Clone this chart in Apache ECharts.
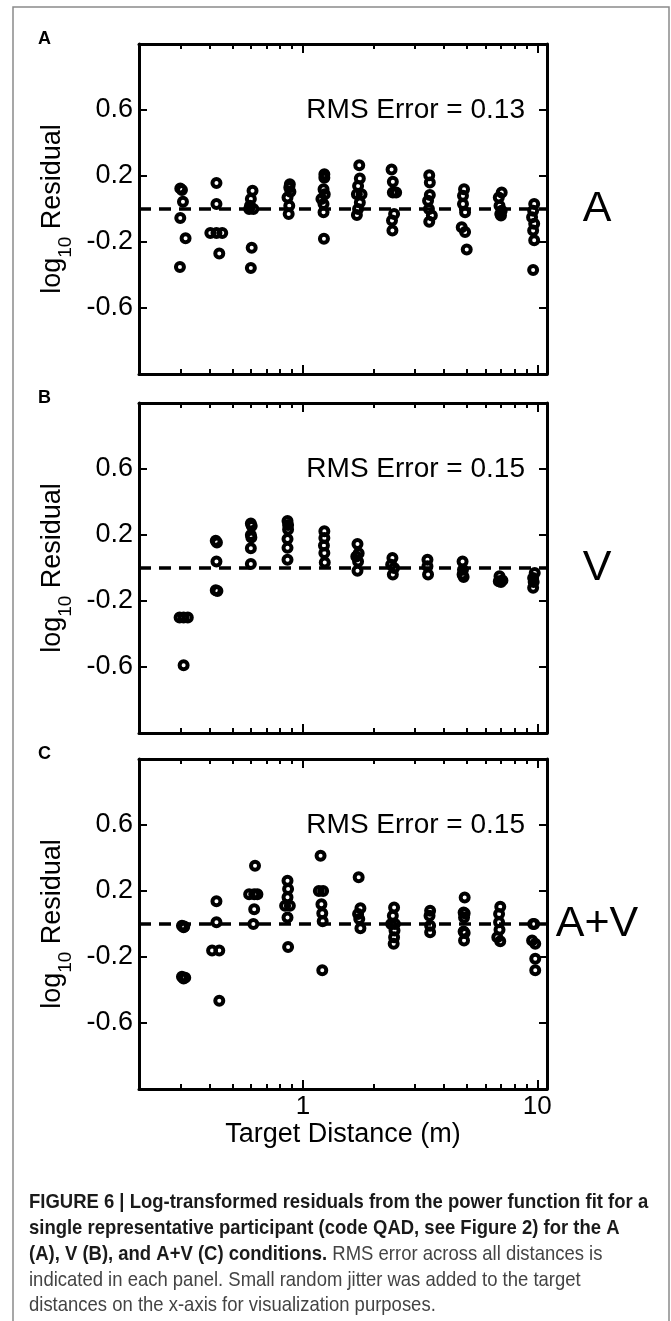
<!DOCTYPE html>
<html>
<head>
<meta charset="utf-8">
<script src="https://cdn.jsdelivr.net/npm/echarts@6/dist/echarts.min.js"></script>
<style>
html,body{margin:0;padding:0;background:#fff;}
#chart{width:671px;height:1321px;}
</style>
</head>
<body>
<div id="chart"></div>
<script>
// ---- data ----
const xMajorTicks = [1, 10];
const xMinorTicks = [0.3, 0.4, 0.5, 0.6, 0.7, 0.8, 0.9, 2, 3, 4, 5, 6, 7, 8, 9];
const yTicks = [-0.6, -0.2, 0.2, 0.6];
const panelLetters = ['A', 'B', 'C'];
const conditionLabels = ['A', 'V', 'A+V'];
const rmsErrors = [0.13, 0.15, 0.15];

// [target distance (with jitter), log10 residual]
const residualsA = [
  [0.30,0.125],[0.305,0.115],[0.308,0.044],[0.30,-0.054],[0.316,-0.177],[0.299,-0.351],
  [0.428,0.157],[0.428,0.03],[0.403,-0.145],[0.428,-0.145],[0.453,-0.145],[0.44,-0.27],
  [0.61,0.11],[0.60,0.06],[0.595,0.02],[0.59,0.0],[0.615,0.0],[0.605,-0.235],[0.60,-0.357],
  [0.88,0.15],[0.875,0.13],[0.885,0.105],[0.86,0.07],[0.875,0.02],[0.87,-0.03],
  [1.235,0.21],[1.235,0.19],[1.225,0.12],[1.24,0.09],[1.20,0.06],[1.225,0.03],[1.225,-0.02],[1.23,-0.18],
  [1.74,0.265],[1.75,0.185],[1.72,0.14],[1.70,0.09],[1.78,0.09],[1.75,0.04],[1.72,0.0],[1.70,-0.036],
  [2.39,0.24],[2.42,0.165],[2.42,0.10],[2.50,0.10],[2.45,-0.03],[2.40,-0.07],[2.41,-0.13],
  [3.46,0.205],[3.48,0.16],[3.48,0.085],[3.42,0.05],[3.45,0.0],[3.55,-0.04],[3.46,-0.077],
  [4.87,0.12],[4.82,0.08],[4.82,0.03],[4.92,-0.02],[4.76,-0.11],[4.92,-0.14],[5.0,-0.245],
  [7.05,0.10],[6.85,0.07],[6.90,0.02],[7.05,-0.01],[7.0,-0.04],[6.95,-0.03],
  [9.7,0.03],[9.6,-0.01],[9.5,-0.05],[9.7,-0.09],[9.6,-0.13],[9.7,-0.19],[9.6,-0.37]
];
const residualsV = [
  [0.298,-0.30],[0.31,-0.30],[0.323,-0.30],[0.31,-0.59],
  [0.425,0.165],[0.43,0.155],[0.428,0.04],[0.425,-0.135],[0.432,-0.14],
  [0.60,0.27],[0.605,0.255],[0.60,0.20],[0.603,0.185],[0.60,0.12],[0.60,0.024],
  [0.86,0.285],[0.865,0.26],[0.865,0.233],[0.86,0.176],[0.86,0.122],[0.86,0.05],
  [1.235,0.223],[1.235,0.182],[1.23,0.136],[1.235,0.091],[1.24,0.034],
  [1.71,0.146],[1.73,0.09],[1.69,0.07],[1.72,0.04],[1.71,-0.016],
  [2.41,0.06],[2.38,0.02],[2.45,0.0],[2.42,-0.04],
  [3.40,0.05],[3.40,0.01],[3.42,-0.04],
  [4.80,0.04],[4.82,-0.01],[4.80,-0.04],[4.85,-0.055],
  [6.9,-0.05],[6.85,-0.08],[7.0,-0.085],[7.1,-0.075],
  [9.75,-0.03],[9.6,-0.06],[9.65,-0.085],[9.6,-0.12]
];
const residualsAV = [
  [0.305,-0.01],[0.31,-0.02],[0.312,-0.015],[0.305,-0.32],[0.31,-0.33],[0.315,-0.325],
  [0.428,0.138],[0.428,0.01],[0.41,-0.16],[0.44,-0.16],[0.44,-0.465],
  [0.625,0.353],[0.59,0.18],[0.62,0.18],[0.64,0.18],[0.62,0.09],[0.615,0.0],
  [0.86,0.262],[0.865,0.212],[0.86,0.162],[0.84,0.111],[0.88,0.111],[0.86,0.04],[0.865,-0.14],
  [1.19,0.414],[1.17,0.20],[1.22,0.20],[1.20,0.12],[1.21,0.065],[1.215,0.016],[1.21,-0.28],
  [1.73,0.283],[1.76,0.095],[1.72,0.06],[1.74,0.03],[1.76,-0.026],
  [2.45,0.10],[2.42,0.05],[2.38,0.0],[2.47,0.0],[2.46,-0.04],[2.45,-0.08],[2.44,-0.12],
  [3.49,0.08],[3.47,0.05],[3.49,-0.01],[3.49,-0.05],
  [4.9,0.16],[4.85,0.07],[4.9,0.065],[4.87,0.04],[4.85,-0.045],[4.9,-0.055],[4.87,-0.10],
  [6.95,0.105],[6.87,0.06],[6.87,0.01],[6.9,-0.035],[6.75,-0.08],[6.95,-0.105],
  [9.7,0.0],[9.6,0.0],[9.5,-0.10],[9.8,-0.12],[9.8,-0.21],[9.8,-0.28]
];
const panels = [residualsA, residualsV, residualsAV];

const captionBold1 = 'FIGURE 6 | Log-transformed residuals from the power function fit for a';
const captionBold2 = 'single representative participant (code QAD, see Figure 2) for the A';
const captionBold3 = '(A), V (B), and A+V (C) conditions.';
const captionReg3 = ' RMS error across all distances is';
const captionReg4 = 'indicated in each panel. Small random jitter was added to the target';
const captionReg5 = 'distances on the x-axis for visualization purposes.';

// ---- layout ----
const FONT = "'Liberation Sans', Arial, Helvetica, sans-serif";
const gridLeft = 139, gridWidth = 408, gridHeight = 330;
const gridTops = [44, 403, 759];
const X_MIN = 0.2, X_MAX = 11;

const grids = [], xAxes = [], yAxes = [], series = [], graphics = [];

gridTops.forEach((top, i) => {
  grids.push({left: gridLeft, top: top, width: gridWidth, height: gridHeight});
  const isLast = i === gridTops.length - 1;
  const baseX = {
    gridIndex: i, type: 'log', logBase: 10, min: X_MIN, max: X_MAX,
    splitLine: {show: false}, minorTick: {show: false}, minorSplitLine: {show: false}
  };
  // bottom major
  xAxes.push(Object.assign({}, baseX, {
    position: 'bottom',
    axisLine: {show: true, onZero: false, lineStyle: {color: '#000', width: 3}},
    axisTick: {show: true, inside: true, length: 9, customValues: xMajorTicks, lineStyle: {color: '#000', width: 2}},
    axisLabel: {show: isLast, customValues: xMajorTicks, fontSize: 26, fontFamily: FONT, color: '#000', margin: 5,
      formatter: v => String(Math.round(v))},
    name: isLast ? 'Target Distance (m)' : '',
    nameLocation: 'middle', nameGap: 32,
    nameTextStyle: {fontSize: 27, fontFamily: FONT, color: '#000'}
  }));
  // bottom minor
  xAxes.push(Object.assign({}, baseX, {
    position: 'bottom',
    axisLine: {show: false, onZero: false},
    axisTick: {show: true, inside: true, length: 5, customValues: xMinorTicks, lineStyle: {color: '#000', width: 2}},
    axisLabel: {show: false}
  }));
  // top major
  xAxes.push(Object.assign({}, baseX, {
    position: 'top',
    axisLine: {show: true, onZero: false, lineStyle: {color: '#000', width: 3}},
    axisTick: {show: true, inside: true, length: 9, customValues: xMajorTicks, lineStyle: {color: '#000', width: 2}},
    axisLabel: {show: false}
  }));
  // top minor
  xAxes.push(Object.assign({}, baseX, {
    position: 'top',
    axisLine: {show: false, onZero: false},
    axisTick: {show: true, inside: true, length: 5, customValues: xMinorTicks, lineStyle: {color: '#000', width: 2}},
    axisLabel: {show: false}
  }));

  yAxes.push({
    gridIndex: i, type: 'value', min: -1, max: 1, position: 'left',
    splitLine: {show: false},
    axisLine: {show: true, onZero: false, lineStyle: {color: '#000', width: 3}},
    axisTick: {show: true, inside: true, length: 8, customValues: yTicks, lineStyle: {color: '#000', width: 2}},
    axisLabel: {show: true, customValues: yTicks, fontSize: 27, fontFamily: FONT, color: '#000', margin: 6,
      formatter: v => v.toFixed(1)},
    name: '{a|log}{s|10}{a| Residual}',
    nameLocation: 'middle', nameRotate: 90, nameGap: 64,
    nameTextStyle: {
      rich: {
        a: {fontSize: 27, fontFamily: FONT, color: '#000', padding: [0, 0, 9, 0]},
        s: {fontSize: 19, fontFamily: FONT, color: '#000', verticalAlign: 'bottom'}
      }
    }
  });
  yAxes.push({
    gridIndex: i, type: 'value', min: -1, max: 1, position: 'right',
    splitLine: {show: false},
    axisLine: {show: true, onZero: false, lineStyle: {color: '#000', width: 3}},
    axisTick: {show: true, inside: true, length: 8, customValues: yTicks, lineStyle: {color: '#000', width: 2}},
    axisLabel: {show: false}
  });

  series.push({
    type: 'scatter',
    xAxisIndex: i * 4, yAxisIndex: i * 2,
    data: panels[i],
    symbol: 'circle', symbolSize: 8,
    itemStyle: {color: 'rgba(0,0,0,0)', borderColor: '#000', borderWidth: 4, opacity: 1},
    emphasis: {disabled: true},
    z: 3,
    markLine: {
      silent: true, symbol: ['none', 'none'], label: {show: false},
      lineStyle: {color: '#000', width: 3.5, type: [12, 8]},
      data: [{yAxis: 0}],
      animation: false
    }
  });

  // panel letter
  graphics.push({type: 'text', left: 38, top: top - 14,
    style: {text: panelLetters[i], font: 'bold 18px ' + FONT, fill: '#000'}});
  // RMS annotation (right aligned, centred on the 0.6 level)
  graphics.push({type: 'text', x: 525, y: top + gridHeight * 0.2,
    style: {text: 'RMS Error = ' + rmsErrors[i].toFixed(2), font: '28px ' + FONT, fill: '#000',
      align: 'right', verticalAlign: 'middle'}});
  // condition label at right
  graphics.push({type: 'text', x: 597, y: top + gridHeight * 0.5,
    style: {text: conditionLabels[i], font: '43px ' + FONT, fill: '#000',
      align: 'center', verticalAlign: 'middle'}});
});

// outer frame
graphics.push({type: 'rect', shape: {x: 13, y: 7, width: 656, height: 1330},
  style: {fill: 'none', stroke: '#8a8a8a', lineWidth: 1.5}, z: -1});

// caption (condensed by horizontal scaling)
const capX = 29, capScale = 0.88;
const capY = [1202, 1228, 1254, 1280, 1305];
const capFont = 21;
function capText(y, style) {
  return {type: 'text', x: capX, y: y, scaleX: capScale, scaleY: 1,
    style: Object.assign({verticalAlign: 'middle'}, style)};
}
graphics.push(capText(capY[0], {text: captionBold1, font: 'bold ' + capFont + 'px ' + FONT, fill: '#1a1a1a'}));
graphics.push(capText(capY[1], {text: captionBold2, font: 'bold ' + capFont + 'px ' + FONT, fill: '#1a1a1a'}));
graphics.push(capText(capY[2], {text: '{b|' + captionBold3 + '}{r|' + captionReg3 + '}',
  rich: {b: {font: 'bold ' + capFont + 'px ' + FONT, fill: '#1a1a1a'}, r: {font: capFont + 'px ' + FONT, fill: '#444'}}}));
graphics.push(capText(capY[3], {text: captionReg4, font: capFont + 'px ' + FONT, fill: '#444'}));
graphics.push(capText(capY[4], {text: captionReg5, font: capFont + 'px ' + FONT, fill: '#444'}));

const chart = echarts.init(document.getElementById('chart'), null, {renderer: 'canvas'});
chart.setOption({
  animation: false,
  backgroundColor: '#fff',
  grid: grids,
  xAxis: xAxes,
  yAxis: yAxes,
  series: series,
  graphic: graphics
});
</script>
</body>
</html>
